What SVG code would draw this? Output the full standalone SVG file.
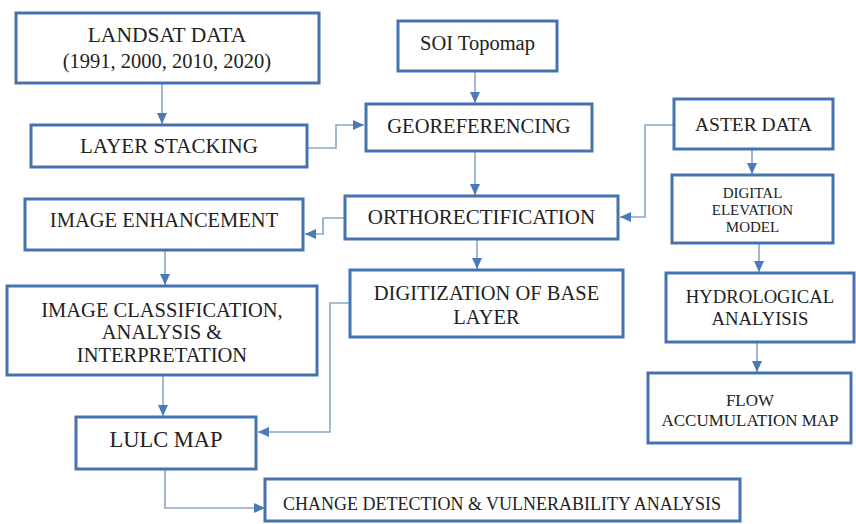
<svg xmlns="http://www.w3.org/2000/svg" width="856" height="524" viewBox="0 0 856 524">
<defs>
<style>
.box{fill:#ffffff;stroke:#4673b0;stroke-width:3}
.t{font-family:"Liberation Serif","Times New Roman",serif;fill:#222;text-anchor:middle}
.c{fill:none;stroke:#8aa6cc;stroke-width:1.6}
</style>
<marker id="ah" markerUnits="userSpaceOnUse" markerWidth="12" markerHeight="12" viewBox="0 0 12 12" refX="11" refY="6" orient="auto">
<path d="M0,1 L11,6 L0,11 Z" fill="#4a7ab8"/>
</marker>
</defs>
<rect width="856" height="524" fill="#ffffff"/>
<g id="connectors">
<path class="c" d="M162,83 V124" marker-end="url(#ah)"/>
<path class="c" d="M307,148 H336 V125 H364" marker-end="url(#ah)"/>
<path class="c" d="M475,71 V103" marker-end="url(#ah)"/>
<path class="c" d="M475,151 V195" marker-end="url(#ah)"/>
<path class="c" d="M345,218 H323 V234 H305" marker-end="url(#ah)"/>
<path class="c" d="M674,125 H645 V217 H620" marker-end="url(#ah)"/>
<path class="c" d="M752,149 V174" marker-end="url(#ah)"/>
<path class="c" d="M759,243 V272" marker-end="url(#ah)"/>
<path class="c" d="M757,342 V372" marker-end="url(#ah)"/>
<path class="c" d="M477,239 V269" marker-end="url(#ah)"/>
<path class="c" d="M165,250 V285" marker-end="url(#ah)"/>
<path class="c" d="M350,303 H330 V432 H258" marker-end="url(#ah)"/>
<path class="c" d="M163,375 V416" marker-end="url(#ah)"/>
<path class="c" d="M165,469 V508 H265" marker-end="url(#ah)"/>
</g>
<g id="landsat">
<rect class="box" x="16" y="13" width="303" height="70"/>
<text class="t" x="167" y="42" font-size="21.5">LANDSAT DATA</text>
<text class="t" x="167" y="68" font-size="20.5">(1991, 2000, 2010, 2020)</text>
</g>
<g id="layerstacking">
<rect class="box" x="31" y="125" width="276" height="42"/>
<text class="t" x="169" y="153" font-size="21">LAYER STACKING</text>
</g>
<g id="soi">
<rect class="box" x="398" y="21" width="159" height="50"/>
<text class="t" x="477.5" y="50" font-size="20.5">SOI Topomap</text>
</g>
<g id="georef">
<rect class="box" x="366" y="104" width="226" height="47"/>
<text class="t" x="479" y="133" font-size="20.5">GEOREFERENCING</text>
</g>
<g id="ortho">
<rect class="box" x="345" y="196" width="273" height="43"/>
<text class="t" x="481.5" y="224" font-size="21">ORTHORECTIFICATION</text>
</g>
<g id="aster">
<rect class="box" x="674" y="99" width="159" height="50"/>
<text class="t" x="753.5" y="131" font-size="19.5">ASTER DATA</text>
</g>
<g id="dem">
<rect class="box" x="672" y="175" width="161" height="68"/>
<text class="t" x="752.5" y="198" font-size="15">DIGITAL</text>
<text class="t" x="752.5" y="215" font-size="15">ELEVATION</text>
<text class="t" x="752.5" y="232" font-size="15">MODEL</text>
</g>
<g id="enhancement">
<rect class="box" x="25" y="199" width="278" height="51"/>
<text class="t" x="164" y="227" font-size="20.5">IMAGE ENHANCEMENT</text>
</g>
<g id="classification">
<rect class="box" x="7" y="286" width="310" height="89"/>
<text class="t" x="162" y="317" font-size="20.5">IMAGE CLASSIFICATION,</text>
<text class="t" x="162" y="339" font-size="20.5">ANALYSIS &amp;</text>
<text class="t" x="162" y="362" font-size="20.5">INTERPRETATION</text>
</g>
<g id="digitization">
<rect class="box" x="350" y="270" width="273" height="67"/>
<text class="t" x="486.5" y="300" font-size="20.5">DIGITIZATION OF BASE</text>
<text class="t" x="486.5" y="324" font-size="20.5">LAYER</text>
</g>
<g id="hydro">
<rect class="box" x="666" y="273" width="188" height="69"/>
<text class="t" x="760" y="303" font-size="18.7">HYDROLOGICAL</text>
<text class="t" x="760" y="325" font-size="18.7">ANALYISIS</text>
</g>
<g id="flow">
<rect class="box" x="648" y="373" width="203" height="70"/>
<text class="t" x="750" y="406" font-size="17">FLOW</text>
<text class="t" x="750" y="426" font-size="17">ACCUMULATION MAP</text>
</g>
<g id="lulc">
<rect class="box" x="76" y="417" width="180" height="52"/>
<text class="t" x="166" y="447" font-size="22.5">LULC MAP</text>
</g>
<g id="change">
<rect class="box" x="265" y="479" width="475" height="42"/>
<text class="t" x="502" y="510" font-size="18">CHANGE DETECTION &amp; VULNERABILITY ANALYSIS</text>
</g>
</svg>
